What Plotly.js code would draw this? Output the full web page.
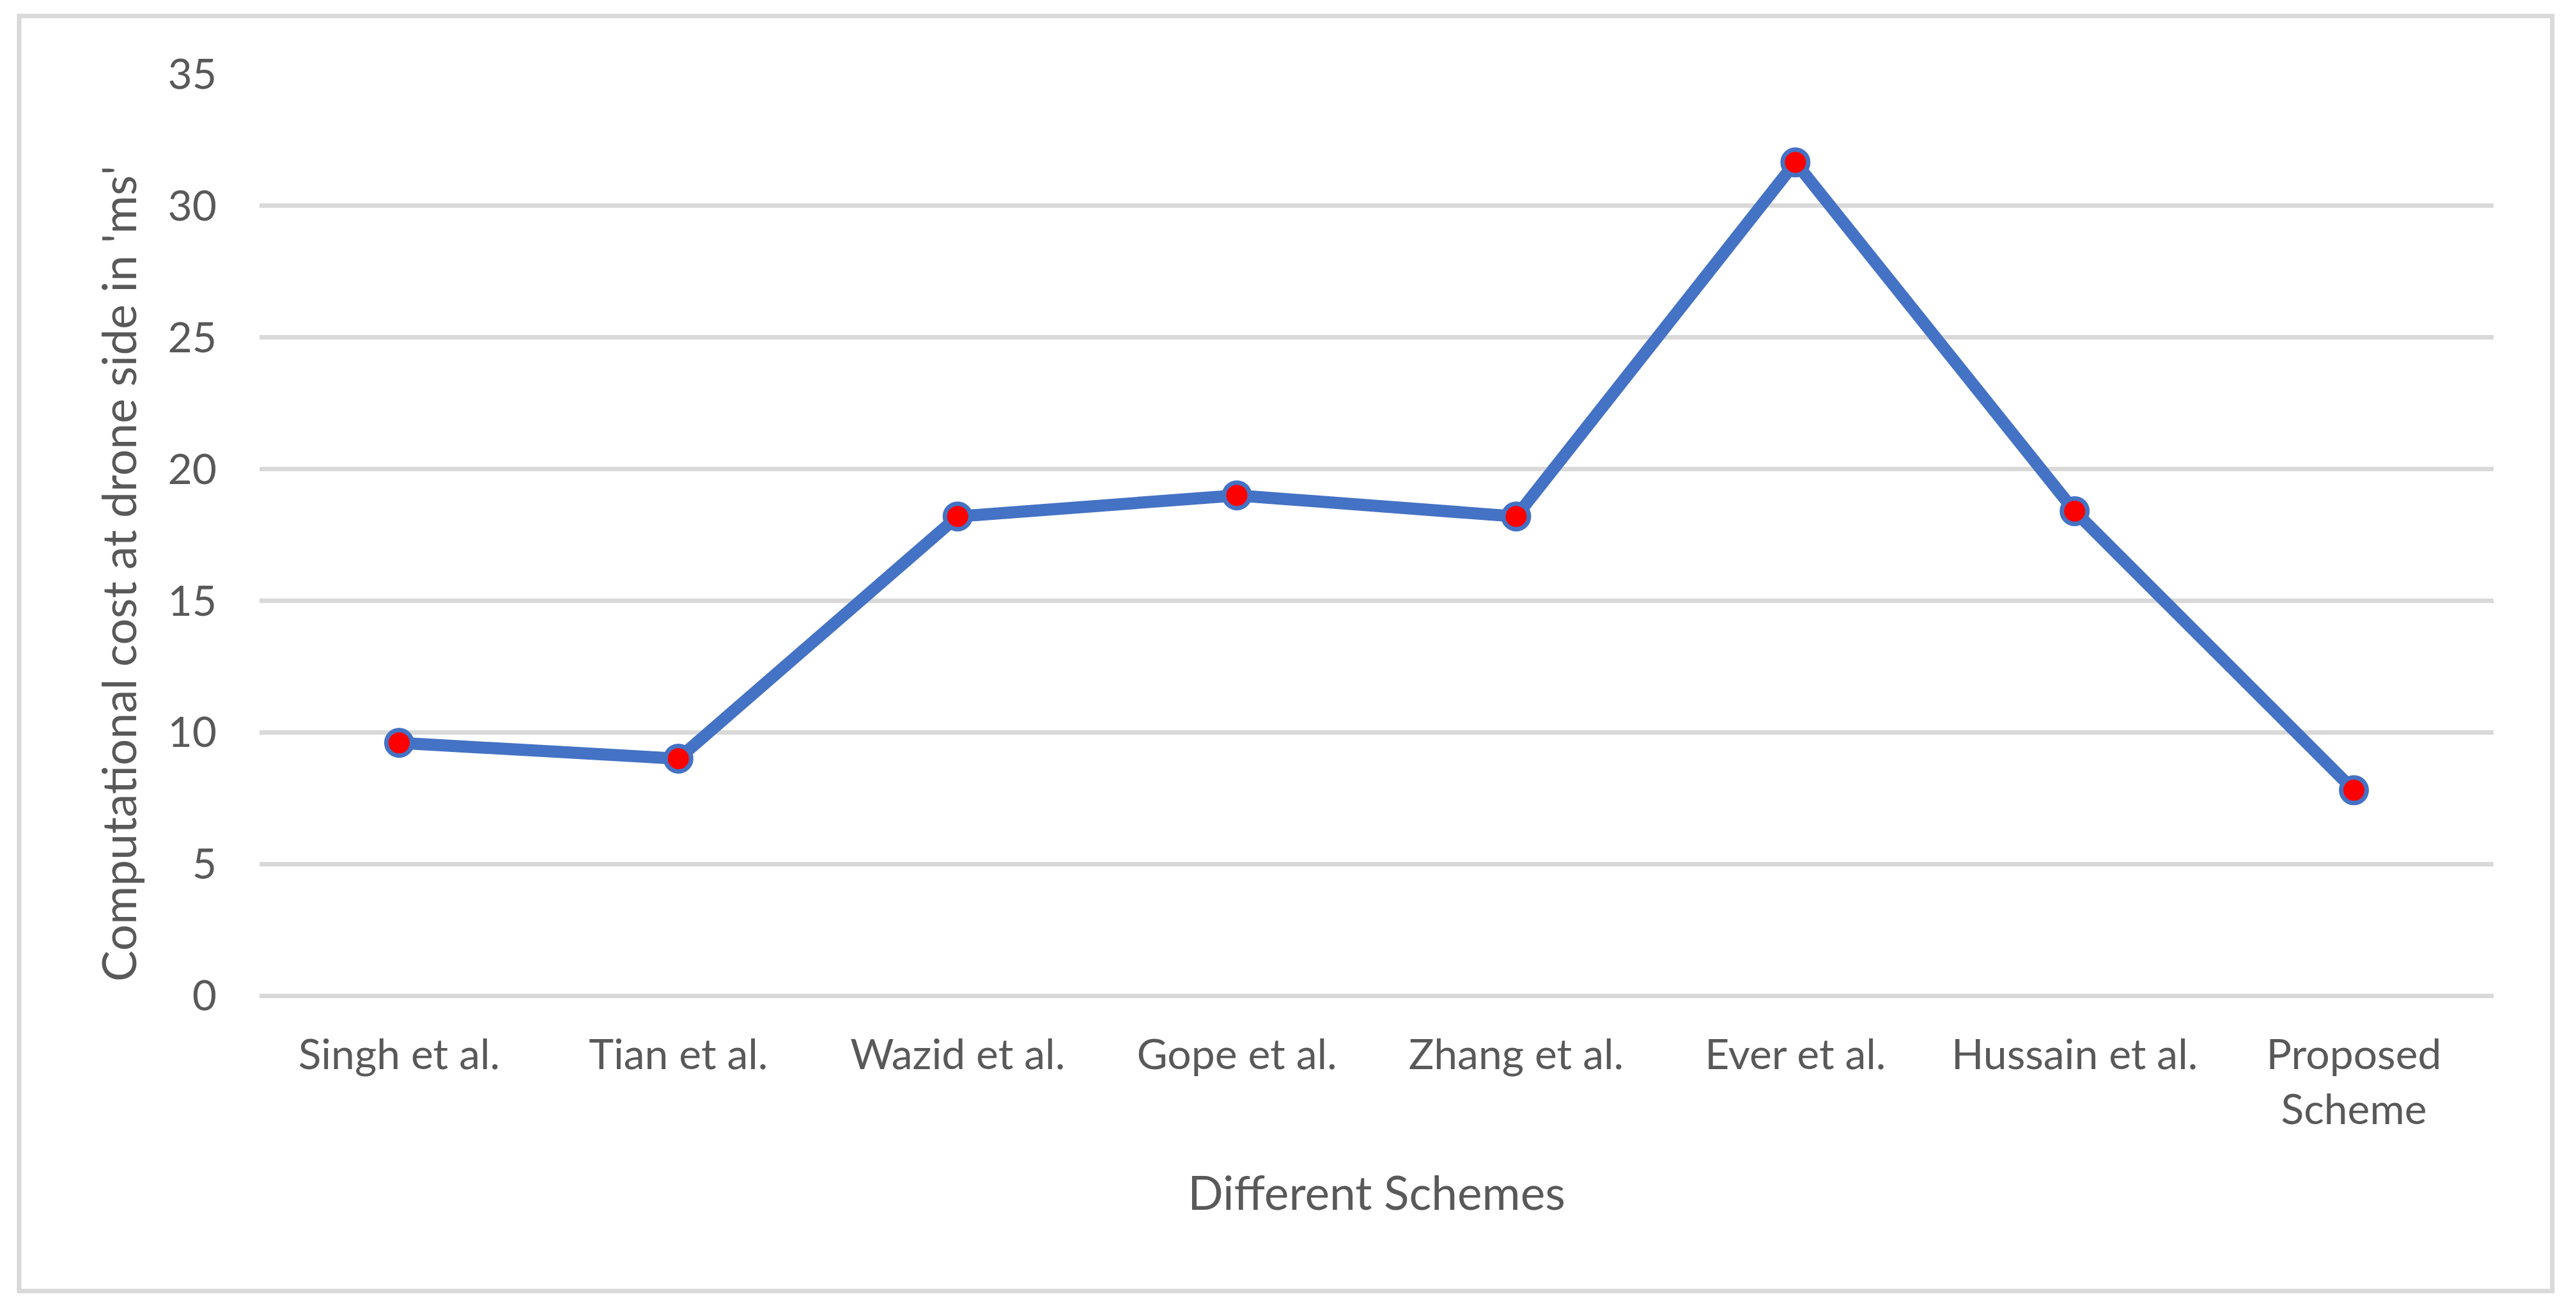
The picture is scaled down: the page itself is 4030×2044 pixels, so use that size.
<!DOCTYPE html>
<html>
<head>
<meta charset="utf-8">
<script src="https://cdn.plot.ly/plotly-3.0.1.min.js"></script>
<style>
html, body { margin: 0; padding: 0; background: #ffffff; }
#chart { width: 4030px; height: 2044px; }
</style>
</head>
<body>
<div id="chart"></div>
<script>
// Data
const schemes = ["Singh et al.", "Tian et al.", "Wazid et al.", "Gope et al.", "Zhang et al.", "Ever et al.", "Hussain et al.", "Proposed<br>Scheme"];
const costMs = [9.6, 9.0, 18.2, 19.0, 18.2, 31.65, 18.4, 7.8];
const yTickValues = [0, 5, 10, 15, 20, 25, 30, 35];

const xTitle = "Different Schemes";
const yTitle = "Computational cost at drone side in 'ms'";

const textColor = "#595959";
const gridColor = "#D9D9D9";
const fontFamily = "Lato, 'Open Sans', sans-serif";

const trace = {
  type: "scatter",
  mode: "lines+markers",
  x: schemes,
  y: costMs,
  line: { color: "#4472C4", width: 19 },
  marker: { color: "#FF0000", size: 40, line: { color: "#4472C4", width: 7 } },
  cliponaxis: false,
  hoverinfo: "x+y"
};

const layout = {
  width: 4030,
  height: 2044,
  paper_bgcolor: "#ffffff",
  plot_bgcolor: "#ffffff",
  margin: { l: 406, r: 129, t: 116, b: 487, pad: 0 },
  showlegend: false,
  font: { family: fontFamily, color: textColor, size: 66 },
  xaxis: {
    type: "category",
    range: [-0.5, 7.5],
    showgrid: false,
    showline: false,
    zeroline: false,
    ticks: "",
    ticklabelstandoff: 48,
    tickfont: { family: fontFamily, color: textColor, size: 66 },
    title: { text: xTitle, font: { family: fontFamily, color: textColor, size: 73 }, standoff: 70 },
    automargin: false
  },
  yaxis: {
    range: [0, 35],
    tickvals: yTickValues,
    ticktext: yTickValues.map(String),
    showgrid: true,
    gridcolor: gridColor,
    gridwidth: 7,
    zeroline: true,
    zerolinecolor: gridColor,
    zerolinewidth: 7,
    showline: false,
    ticks: "",
    ticklabelstandoff: 66,
    tickfont: { family: fontFamily, color: textColor, size: 66 },
    automargin: false
  },
  annotations: [{
    text: yTitle,
    xref: "paper", yref: "paper",
    x: -0.0632, y: 0.458,
    xanchor: "center", yanchor: "middle",
    textangle: -90,
    showarrow: false,
    font: { family: fontFamily, color: textColor, size: 73 }
  }],
  shapes: [{
    type: "rect",
    xref: "paper", yref: "paper",
    x0: -0.1076, x1: 1.0263, y0: -0.3206, y1: 1.0632,
    line: { color: gridColor, width: 7 },
    fillcolor: "rgba(0,0,0,0)",
    layer: "below"
  }]
};

Plotly.newPlot("chart", [trace], layout, { displayModeBar: false, staticPlot: true });
</script>
</body>
</html>
